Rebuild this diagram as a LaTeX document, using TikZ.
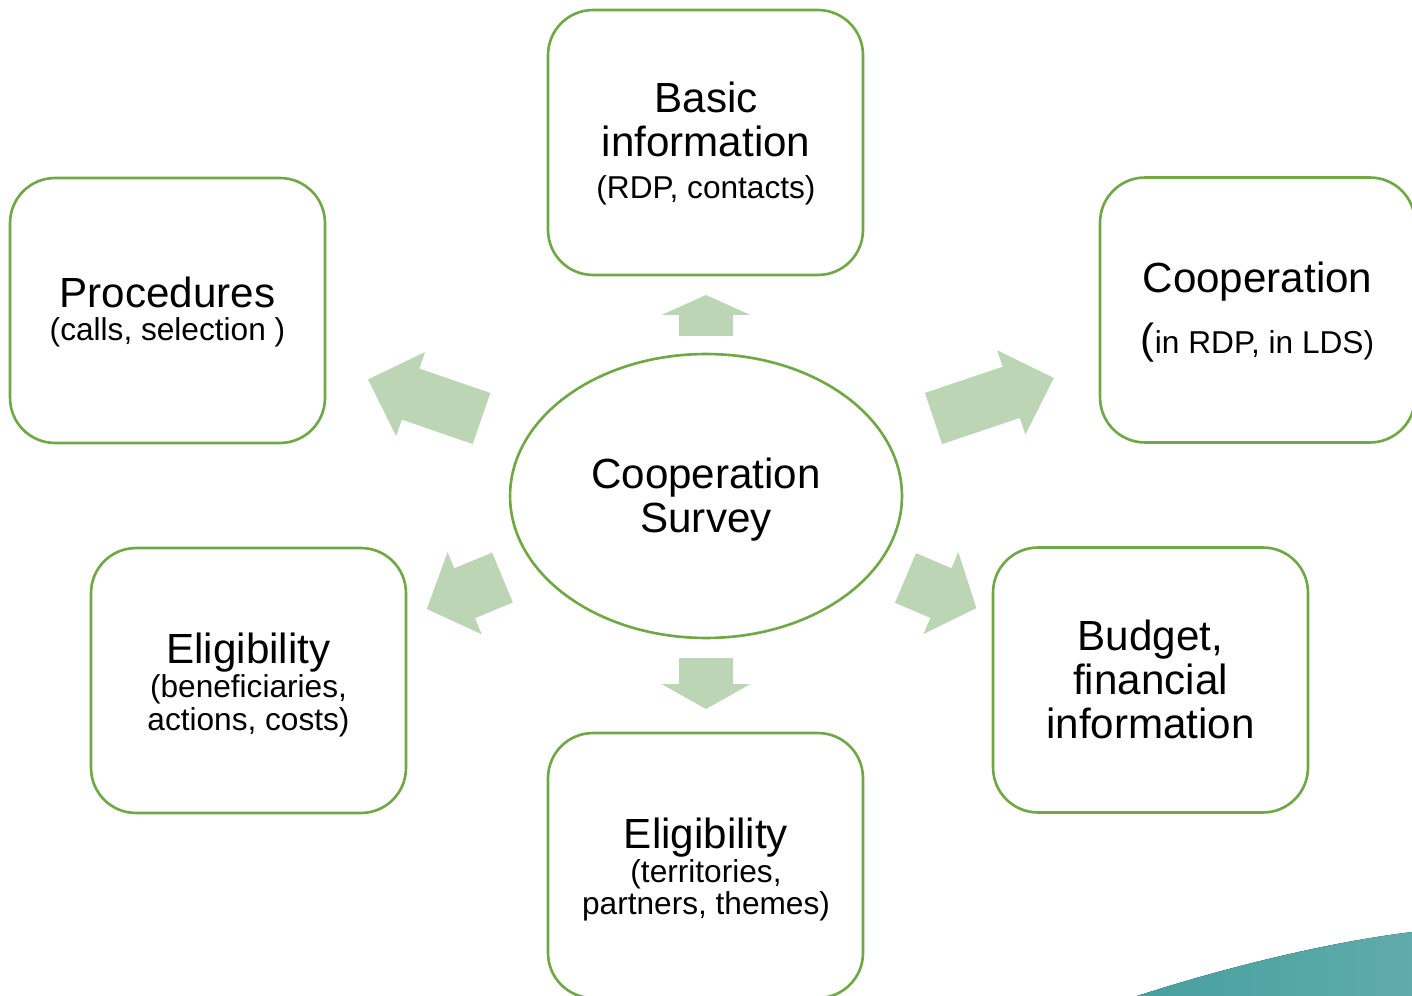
\documentclass[tikz,border=0pt]{standalone}
\usepackage{fontspec}
\setmainfont{Liberation Sans}
\usetikzlibrary{shapes.geometric}

\definecolor{boxgreen}{RGB}{112,168,70}
\definecolor{arrowgreen}{RGB}{188,213,180}
\definecolor{tealA}{RGB}{70,160,158}
\definecolor{tealB}{RGB}{96,171,171}

\tikzset{
  topic/.style = {draw=boxgreen, line width=1.5pt, rounded corners=0.9cm,
                  minimum width=6.3cm, minimum height=5.3cm, inner sep=0pt},
  big/.style   = {anchor=base, inner sep=0pt, font=\fontsize{24}{28}\selectfont},
  small/.style = {anchor=base, inner sep=0pt, font=\fontsize{18}{21}\selectfont},
  blockarrow/.style = {fill=arrowgreen}
}

\begin{document}
\begin{tikzpicture}[x=0.02cm, y=-0.02cm]
	\useasboundingbox (0,0) rectangle (1412,996);
	\clip (0,0) rectangle (1412,996);

	% corner swoosh
	\fill[left color=tealA, right color=tealB] (1137,996) .. controls (1230,966) and (1330,942) .. (1412,932) -- (1412,996) -- cycle;

	% centre and the six topics
	\node[draw=boxgreen, line width=1.5pt, ellipse, minimum width=7.84cm, minimum height=5.68cm, inner sep=0pt] (hub) at (706,496) {};
	\node[topic] (basic) at (705.5,142.5) {};
	\node[topic] (procs) at (167.5,310.5) {};
	\node[topic] (coop) at (1257.5,310) {};
	\node[topic] (eligben) at (248.5,680.5) {};
	\node[topic] (budget) at (1150.5,680) {};
	\node[topic] (eligter) at (705.5,865.5) {};

	% texts
	\node[big] (hub1) at (706,488) {Cooperation};
	\node[big] (hub2) at (706,532) {Survey};

	\node[big] (basic1) at (706,113) {Basic};
	\node[big] (basic2) at (706,157) {information};
	\node[small] (basic3) at (706,199) {(RDP, contacts)};

	\node[big] (procs1) at (167.5,308) {Procedures};
	\node[small] (procs2) at (167.5,341) {(calls, selection )};

	\node[big] (coop1) at (1257.5,293) {Cooperation};
	\node[small] (coop2) at (1257.5,354) {{\fontsize{24}{28}\selectfont(}in RDP, in LDS)};

	\node[big] (eligben1) at (248.5,663) {Eligibility};
	\node[small] (eligben2) at (248.5,697) {(beneficiaries,};
	\node[small] (eligben3) at (248.5,730) {actions, costs)};

	\node[big] (budget1) at (1150.5,650) {Budget,};
	\node[big] (budget2) at (1150.5,694) {financial};
	\node[big] (budget3) at (1150.5,738) {information};

	\node[big] (eligter1) at (706,848) {Eligibility};
	\node[small] (eligter2) at (706,882) {(territories,};
	\node[small] (eligter3) at (706,914) {partners, themes)};

	% block arrows: base x, base y, angle, length, head length
	\foreach \bx/\by/\ang/\len/\hd in {706/336/90/41/20, 706/658/-90/51/25,
	    481.5/418.5/161/120/45, 933.5/418.5/18.6/127/45,
	    502.5/577.5/-157.4/82/41, 905.5/578/-23/77/38.5}
	  \fill[blockarrow, shift={(\bx,\by)}, rotate=\ang]
	    (0,-27) -- (\len-\hd,-27) -- (\len-\hd,-44.5) -- (\len,0)
	    -- (\len-\hd,44.5) -- (\len-\hd,27) -- (0,27) -- cycle;
\end{tikzpicture}
\end{document}
